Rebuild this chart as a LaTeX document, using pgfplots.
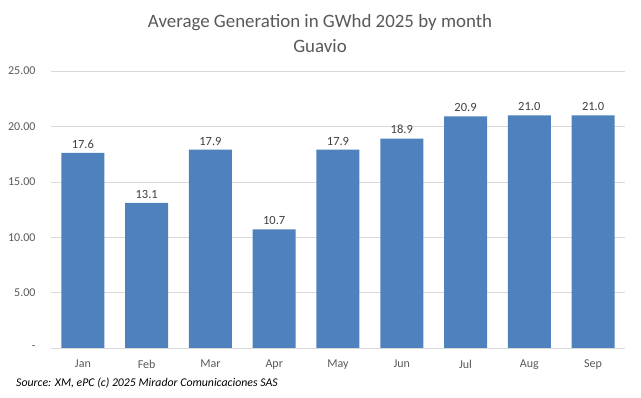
\documentclass[border=0pt]{standalone}
\usepackage{pgfplots}
\pgfplotsset{compat=1.18}
\usepackage{fontspec}
\setmainfont{Carlito}
\definecolor{barblue}{HTML}{4F81BD}
\definecolor{gridgray}{HTML}{D9D9D9}
\definecolor{txtgray}{HTML}{595959}
\definecolor{lblgray}{HTML}{404040}
\begin{document}
\begin{tikzpicture}
\useasboundingbox (-51pt,-49pt) rectangle (590pt,348pt);
\fill[white] (-51pt,-49pt) rectangle (590pt,348pt);
\begin{axis}[
  at={(0,0)}, anchor=south west,
  scale only axis, width=574pt, height=277pt,
  ybar, bar width=43pt,
  xmin=-0.5, xmax=8.5, ymin=0, ymax=25,
  xtick=data,
  xticklabels={Jan,Feb,Mar,Apr,May,Jun,Jul,Aug,Sep},
  ytick={0,5,10,15,20,25},
  yticklabels={-,5.00,10.00,15.00,20.00,25.00},
  major tick length=0pt,
  axis line style={draw=none},
  ymajorgrids, grid style={gridgray, line width=0.6pt},
  ticklabel style={font=\fontsize{12}{14}\selectfont, text=txtgray},
  yticklabel style={xshift=-12pt},
  xticklabel style={yshift=-8.5pt},
  /pgf/number format/assume math mode=true,
  nodes near coords={\pgfmathprintnumber[fixed,fixed zerofill,precision=1]{\pgfplotspointmeta}},
  nodes near coords style={font=\fontsize{12.5}{14}\selectfont, text=lblgray, yshift=1pt},
  clip=false,
]
\addplot[fill=barblue, draw=none] coordinates {
(0,17.6) (1,13.1) (2,17.9) (3,10.7) (4,17.9) (5,18.9) (6,20.9) (7,21.0) (8,21.0)};
\draw[gridgray, line width=0.6pt] (axis cs:-0.5,0) -- (axis cs:8.5,0);
\end{axis}
\node[text=txtgray, font=\fontsize{18.9}{22}\selectfont] at (269pt,325pt) {Average Generation in GWhd 2025 by month};
\node[text=txtgray, font=\fontsize{18.9}{22}\selectfont] at (269pt,302pt) {Guavio};
\node[anchor=west, inner sep=0pt, font=\itshape\fontsize{11.8}{13}\selectfont] at (-35pt,-35pt) {Source: XM, ePC (c) 2025 Mirador Comunicaciones SAS};
\end{tikzpicture}
\end{document}
